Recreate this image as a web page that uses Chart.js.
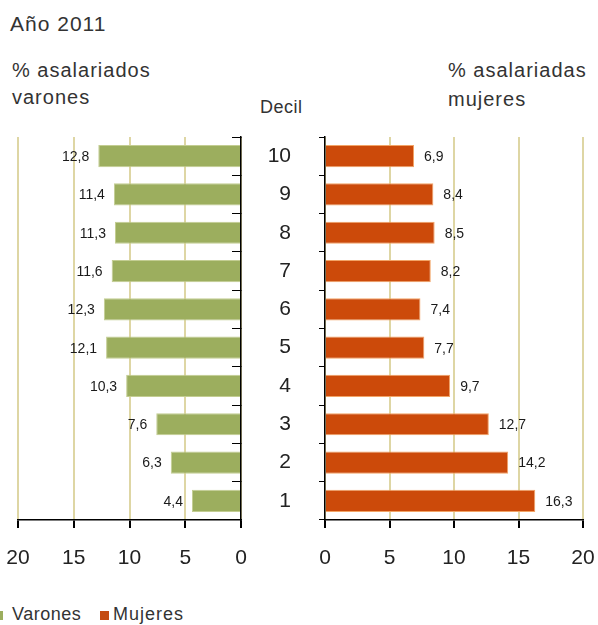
<!DOCTYPE html>
<html>
<head>
<meta charset="utf-8">
<script src="https://cdn.jsdelivr.net/npm/chart.js@4"></script>
<style>
  body { margin: 0; background: #fff; font-family: "Liberation Sans", Arial, sans-serif; color: #333; }
  #wrap { position: relative; width: 598px; height: 625px; overflow: hidden; }
  .txt { position: absolute; white-space: nowrap; letter-spacing: 1px; }
  canvas { position: absolute; }
  .sq { position: absolute; width: 9px; height: 9px; }
</style>
</head>
<body>
<div id="wrap">
  <div class="txt" style="left:10px;top:13px;font-size:21px;line-height:21px">Año 2011</div>
  <div class="txt" style="left:12px;top:60px;font-size:20px;line-height:20px">% asalariados</div>
  <div class="txt" style="left:12px;top:87px;font-size:20px;line-height:20px">varones</div>
  <div class="txt" style="left:260px;top:98px;font-size:18px;line-height:18px;letter-spacing:0.5px">Decil</div>
  <div class="txt" style="left:448px;top:60px;font-size:20px;line-height:20px">% asalariadas</div>
  <div class="txt" style="left:448px;top:89px;font-size:20px;line-height:20px">mujeres</div>

  <canvas id="izq" width="250" height="460" style="left:0;top:120px"></canvas>
  <canvas id="der" width="348" height="460" style="left:250px;top:120px"></canvas>

  <div class="sq" style="left:-6px;top:611px;background:#9cae5e"></div>
  <div class="txt" style="left:12px;top:605px;font-size:18px;line-height:18px;letter-spacing:0.5px">Varones</div>
  <div class="sq" style="left:100px;top:611px;background:#c44c12"></div>
  <div class="txt" style="left:113px;top:605px;font-size:18px;line-height:18px;letter-spacing:1px">Mujeres</div>
</div>

<script>
// deciles de salario, de arriba (10) hacia abajo (1)
const deciles = ['10', '9', '8', '7', '6', '5', '4', '3', '2', '1'];
const varones = [12.8, 11.4, 11.3, 11.6, 12.3, 12.1, 10.3, 7.6, 6.3, 4.4];
const mujeres = [6.9, 8.4, 8.5, 8.2, 7.4, 7.7, 9.7, 12.7, 14.2, 16.3];
const escala = [0, 20, 5]; // min, max, paso

const FONT = '"Liberation Sans", Arial, sans-serif';
const beige = 'rgb(222, 214, 164)';

// valor de cada barra junto a su extremo, con coma decimal
const etiquetas = {
  id: 'etiquetas',
  afterDatasetsDraw(chart, args, opts) {
    const ctx = chart.ctx;
    const meta = chart.getDatasetMeta(0);
    const values = chart.data.datasets[0].data;
    ctx.save();
    ctx.font = '14px ' + FONT;
    ctx.fillStyle = '#1a1a1a';
    ctx.textBaseline = 'middle';
    ctx.textAlign = opts.side === 'left' ? 'right' : 'left';
    meta.data.forEach((bar, i) => {
      const txt = values[i].toFixed(1).replace('.', ',');
      const x = opts.side === 'left' ? bar.x - 9 : bar.x + 10;
      ctx.fillText(txt, x, bar.y + 1);
    });
    ctx.restore();
  }
};

// sin márgenes extra por etiquetas: el área la fija layout.padding
function fijar(s, size) {
  if (s.isHorizontal()) s.height = size; else s.width = size;
  s.paddingTop = 0;
  s.paddingBottom = 0;
  s.paddingLeft = 0;
  s.paddingRight = 0;
}

function createPanel(canvasId, values, label, color, edge, side) {
  const left = side === 'left';
  const config = {
    type: 'bar',
    data: {
      labels: deciles,
      datasets: [{
        label: label,
        data: values,
        backgroundColor: color,
        borderColor: edge,
        borderWidth: 1,
        barPercentage: 0.58,
        categoryPercentage: 1
      }]
    },
    options: {
      indexAxis: 'y',
      responsive: false,
      animation: false,
      devicePixelRatio: 1,
      layout: { padding: { left: left ? 18 : 0, right: left ? 0 : 15, top: 17, bottom: 0 } },
      plugins: {
        legend: { display: false },
        tooltip: { enabled: false },
        etiquetas: { side: side }
      },
      scales: {
        x: {
          reverse: left,
          min: escala[0],
          max: escala[1],
          ticks: { stepSize: escala[2], color: '#222', font: { family: FONT, size: 21 }, padding: 18, maxRotation: 0 },
          grid: { color: beige, lineWidth: 2, tickColor: '#000', tickLength: 8 },
          border: { color: '#000', width: 1.5 },
          afterFit: s => fijar(s, 60)
        },
        y: {
          position: left ? 'right' : 'left',
          ticks: { display: !left, color: '#222', font: { family: FONT, size: 21 }, padding: 28 },
          grid: { drawOnChartArea: false, tickColor: '#000', tickLength: left ? -9 : 6 },
          border: { color: '#000', width: 1.5 },
          afterFit: s => fijar(s, left ? 9 : 75)
        }
      }
    },
    plugins: [etiquetas]
  };
  const ctx = document.getElementById(canvasId).getContext('2d');
  return new Chart(ctx, config);
}

createPanel('izq', varones, 'Varones', '#9cae5e', '#c3cd92', 'left');
createPanel('der', mujeres, 'Mujeres', '#cc4a0a', '#f2a466', 'right');
</script>
</body>
</html>
